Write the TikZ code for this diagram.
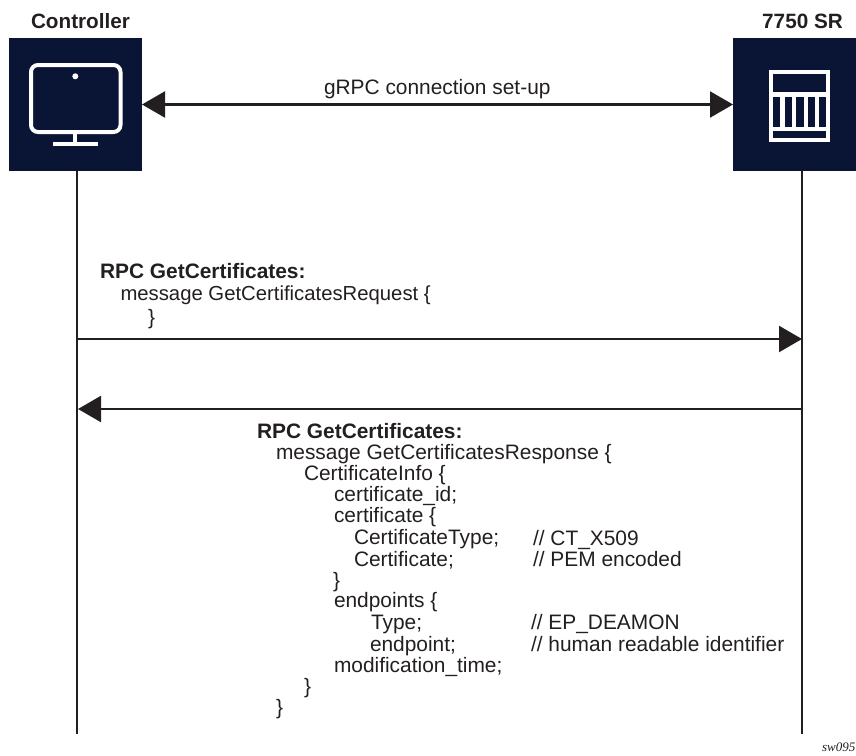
\documentclass[tikz,border=0pt]{standalone}
\usepackage{fontspec}
\setmainfont{Liberation Sans}
\newfontfamily\tagfont{Liberation Serif}
\usetikzlibrary{arrows.meta}
\definecolor{navy}{HTML}{0A1435}
\definecolor{ink}{HTML}{231F20}
\tikzset{
 x=1pt,y=-1pt,
 box/.style={fill=navy,draw=none,inner sep=0pt,outer sep=0pt,minimum height=133pt},
 txt/.style={inner sep=0pt,outer sep=0pt,anchor=base west,text=ink,font=\fontsize{20.9}{24}\selectfont},
 txtsmall/.style={txt,font=\fontsize{20.3}{24}\selectfont},
 head/.style={inner sep=0pt,outer sep=0pt,anchor=base,text=ink,font=\bfseries\fontsize{20.7}{24}\selectfont},
 bold/.style={txt,font=\bfseries\fontsize{20.9}{24}\selectfont},
 life/.style={draw=ink,line width=2.2pt},
 msg/.style={draw=ink,line width=2.2pt,-{Triangle[length=23pt,width=26pt]}},
 both/.style={draw=ink,line width=2.2pt,{Triangle[length=23pt,width=26pt]}-{Triangle[length=23pt,width=26pt]}},
 icon/.style={draw=white,line width=4pt},
}
\begin{document}
\begin{tikzpicture}
\useasboundingbox (0,0) rectangle (856,755);
\node[box,minimum width=133pt] (ctrl) at (75.5,104.5) {};
\node[box,minimum width=123pt] (sr) at (794.5,104.5) {};
\node[head] (ctrlname) at (80.5,28) {Controller};
\node[head] (srname) at (802.5,28) {7750 SR};
% monitor icon
\draw[icon,rounded corners=7pt] (31,65) rectangle (120.5,132);
\fill[white] (75.3,76.3) circle (3pt);
\draw[icon] (75.3,132) -- (75.3,144);
\draw[icon] (53,144) -- (98,144);
% router icon
\fill[white] (769,69.5) rectangle (830,142.3);
\fill[navy] (773,73.7) rectangle (826,92.3);
\fill[navy] (773,96.7) rectangle (780.3,126.7);
\fill[navy] (784.7,96.7) rectangle (792,126.7);
\fill[navy] (796.3,96.7) rectangle (803.7,126.7);
\fill[navy] (808,96.7) rectangle (815.3,126.7);
\fill[navy] (818.7,96.7) rectangle (826,126.7);
\fill[navy] (773,130.7) rectangle (826,138.3);
% lifelines
\coordinate (lc) at (77,734);
\coordinate (ls) at (802,734);
\draw[life] (ctrl.south -| lc) -- (lc);
\draw[life] (sr.south -| ls) -- (ls);
% messages
\draw[both] (ctrl.east) -- (sr.west);
\coordinate (req) at (0,339);
\coordinate (resp) at (0,409);
\draw[msg] (req -| lc) -- (req -| ls);
\draw[msg] (resp -| ls) -- ([xshift=1pt]resp -| lc);
\node[txt] (setup) at (324,94) {gRPC connection set-up};
\node[bold] (r1) at (100,278) {RPC GetCertificates:};
\node[txtsmall] (r2) at (120.5,300) {message GetCertificatesRequest \{};
\node[txt] (r3) at (148,324) {\}};
\node[bold] (a1) at (257,438) {RPC GetCertificates:};
\node[txt] (a2) at (276,459.5) {message GetCertificatesResponse \{};
\node[txt] (a3) at (304,480.5) {CertificateInfo \{};
\node[txt] (a4) at (334,501) {certificate\_id;};
\node[txt] (a5) at (334,522) {certificate \{};
\node[txt] (a6) at (354,544) {CertificateType;};
\node[txt] (a7) at (354,566) {Certificate;};
\node[txt] (a8) at (333,587) {\}};
\node[txt] (a9) at (334,607.5) {endpoints \{};
\node[txt] (a10) at (371,629) {Type;};
\node[txt] (a11) at (370,651) {endpoint;};
\node[txt] (a12) at (334,672) {modification\_time;};
\node[txt] (a13) at (304,693) {\}};
\node[txt] (a14) at (276,714) {\}};
\node[txt] (c1) at (533,545) {// CT\_X509};
\node[txt] (c2) at (533,566) {// PEM encoded};
\node[txt] (c3) at (531,629) {// EP\_DEAMON};
\node[txt] (c4) at (531,651) {// human readable identifier};
\node[inner sep=0pt,anchor=base east,text=ink,font=\tagfont\itshape\fontsize{13}{15}\selectfont] (tag) at (855.5,751) {sw095};
\end{tikzpicture}
\end{document}
